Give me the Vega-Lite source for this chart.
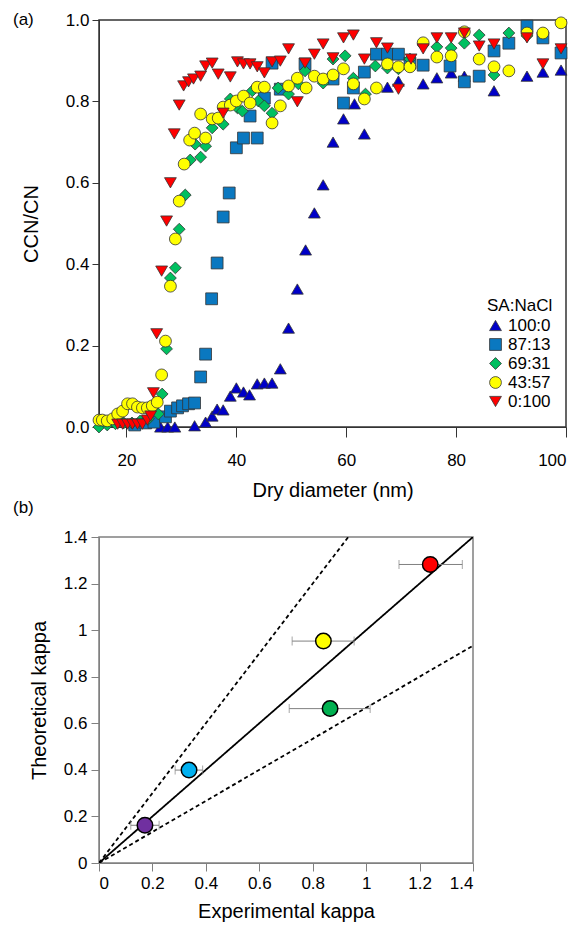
{
  "$schema": "https://vega.github.io/schema/vega-lite/v6.json",
  "padding": {"left": 12, "top": 9, "right": 5, "bottom": 2},
  "spacing": -3,
  "config": {
    "font": "Liberation Sans",
    "axis": {"grid": false, "labelFont": "Liberation Sans", "titleFont": "Liberation Sans", "labelColor": "#000", "titleColor": "#000", "titleFontWeight": "normal", "labelFontSize": 17, "titleFontSize": 20, "tickSize": 8},
    "title": {"fontWeight": "normal", "fontSize": 17, "font": "Liberation Sans", "color": "#000"}
  },
  "datasets": {
    "ccn": [
      {"s":"100:0","d":26.2,"r":0.0},{"s":"100:0","d":27.5,"r":0.0},{"s":"100:0","d":28.8,"r":0.0},{"s":"100:0","d":32.4,"r":0.003},{"s":"100:0","d":34.4,"r":0.012},{"s":"100:0","d":35.6,"r":0.027},{"s":"100:0","d":36.5,"r":0.044},{"s":"100:0","d":37.6,"r":0.042},{"s":"100:0","d":38.9,"r":0.076},{"s":"100:0","d":40.0,"r":0.096},{"s":"100:0","d":41.3,"r":0.086},{"s":"100:0","d":42.4,"r":0.079},{"s":"100:0","d":43.8,"r":0.106},{"s":"100:0","d":45.1,"r":0.108},{"s":"100:0","d":46.5,"r":0.108},{"s":"100:0","d":48.0,"r":0.143},{"s":"100:0","d":49.5,"r":0.243},{"s":"100:0","d":51.1,"r":0.339},{"s":"100:0","d":52.6,"r":0.435},{"s":"100:0","d":54.2,"r":0.526},{"s":"100:0","d":55.8,"r":0.595},{"s":"100:0","d":57.6,"r":0.700},{"s":"100:0","d":59.5,"r":0.757},{"s":"100:0","d":61.5,"r":0.794},{"s":"100:0","d":63.3,"r":0.720},{"s":"100:0","d":67.5,"r":0.835},{"s":"100:0","d":69.5,"r":0.850},{"s":"100:0","d":74.0,"r":0.843},{"s":"100:0","d":76.5,"r":0.858},{"s":"100:0","d":79.1,"r":0.870},{"s":"100:0","d":81.5,"r":0.862},{"s":"100:0","d":86.9,"r":0.826},{"s":"100:0","d":92.9,"r":0.862},{"s":"100:0","d":95.8,"r":0.872},{"s":"100:0","d":99.1,"r":0.877},
      {"s":"87:13","d":21.5,"r":0.005},{"s":"87:13","d":23.5,"r":0.01},{"s":"87:13","d":25.0,"r":0.012},{"s":"87:13","d":27.1,"r":0.025},{"s":"87:13","d":28.0,"r":0.039},{"s":"87:13","d":29.3,"r":0.047},{"s":"87:13","d":30.2,"r":0.052},{"s":"87:13","d":31.3,"r":0.057},{"s":"87:13","d":32.4,"r":0.059},{"s":"87:13","d":33.5,"r":0.123},{"s":"87:13","d":34.4,"r":0.179},{"s":"87:13","d":35.5,"r":0.315},{"s":"87:13","d":36.5,"r":0.403},{"s":"87:13","d":37.6,"r":0.516},{"s":"87:13","d":38.7,"r":0.575},{"s":"87:13","d":40.0,"r":0.686},{"s":"87:13","d":41.3,"r":0.710},{"s":"87:13","d":42.5,"r":0.764},{"s":"87:13","d":43.8,"r":0.710},{"s":"87:13","d":45.1,"r":0.808},{"s":"87:13","d":46.5,"r":0.894},{"s":"87:13","d":48.0,"r":0.830},{"s":"87:13","d":52.5,"r":0.892},{"s":"87:13","d":57.6,"r":0.855},{"s":"87:13","d":59.5,"r":0.796},{"s":"87:13","d":61.3,"r":0.833},{"s":"87:13","d":63.3,"r":0.872},{"s":"87:13","d":65.5,"r":0.916},{"s":"87:13","d":67.5,"r":0.916},{"s":"87:13","d":69.5,"r":0.916},{"s":"87:13","d":71.6,"r":0.894},{"s":"87:13","d":74.0,"r":0.889},{"s":"87:13","d":78.9,"r":0.887},{"s":"87:13","d":81.5,"r":0.848},{"s":"87:13","d":84.2,"r":0.862},{"s":"87:13","d":86.9,"r":0.924},{"s":"87:13","d":89.6,"r":0.943},{"s":"87:13","d":92.9,"r":0.985},{"s":"87:13","d":95.8,"r":0.956},{"s":"87:13","d":99.1,"r":0.919},
      {"s":"69:31","d":15.0,"r":0.0},{"s":"69:31","d":16.5,"r":0.005},{"s":"69:31","d":18.0,"r":0.008},{"s":"69:31","d":19.5,"r":0.01},{"s":"69:31","d":21.0,"r":0.01},{"s":"69:31","d":22.5,"r":0.015},{"s":"69:31","d":24.0,"r":0.02},{"s":"69:31","d":25.8,"r":0.032},{"s":"69:31","d":26.5,"r":0.081},{"s":"69:31","d":27.3,"r":0.192},{"s":"69:31","d":28.0,"r":0.366},{"s":"69:31","d":28.9,"r":0.391},{"s":"69:31","d":29.6,"r":0.486},{"s":"69:31","d":30.7,"r":0.570},{"s":"69:31","d":31.6,"r":0.656},{"s":"69:31","d":32.5,"r":0.695},{"s":"69:31","d":33.5,"r":0.663},{"s":"69:31","d":34.4,"r":0.690},{"s":"69:31","d":35.6,"r":0.735},{"s":"69:31","d":37.6,"r":0.744},{"s":"69:31","d":38.9,"r":0.806},{"s":"69:31","d":40.2,"r":0.784},{"s":"69:31","d":41.1,"r":0.776},{"s":"69:31","d":42.9,"r":0.826},{"s":"69:31","d":44.0,"r":0.801},{"s":"69:31","d":45.1,"r":0.789},{"s":"69:31","d":46.5,"r":0.771},{"s":"69:31","d":47.6,"r":0.833},{"s":"69:31","d":49.5,"r":0.818},{"s":"69:31","d":51.3,"r":0.843},{"s":"69:31","d":52.5,"r":0.875},{"s":"69:31","d":55.8,"r":0.845},{"s":"69:31","d":57.6,"r":0.904},{"s":"69:31","d":59.8,"r":0.912},{"s":"69:31","d":61.3,"r":0.857},{"s":"69:31","d":63.5,"r":0.818},{"s":"69:31","d":65.3,"r":0.887},{"s":"69:31","d":67.5,"r":0.882},{"s":"69:31","d":69.5,"r":0.880},{"s":"69:31","d":71.6,"r":0.904},{"s":"69:31","d":74.0,"r":0.939},{"s":"69:31","d":76.5,"r":0.934},{"s":"69:31","d":79.1,"r":0.931},{"s":"69:31","d":81.5,"r":0.943},{"s":"69:31","d":84.2,"r":0.963},{"s":"69:31","d":86.9,"r":0.865},{"s":"69:31","d":89.6,"r":0.968},{"s":"69:31","d":92.9,"r":0.961},
      {"s":"43:57","d":15.0,"r":0.017},{"s":"43:57","d":15.6,"r":0.017},{"s":"43:57","d":16.5,"r":0.015},{"s":"43:57","d":17.5,"r":0.020},{"s":"43:57","d":18.4,"r":0.032},{"s":"43:57","d":19.3,"r":0.039},{"s":"43:57","d":20.2,"r":0.057},{"s":"43:57","d":21.1,"r":0.057},{"s":"43:57","d":22.0,"r":0.049},{"s":"43:57","d":22.9,"r":0.047},{"s":"43:57","d":23.8,"r":0.047},{"s":"43:57","d":24.7,"r":0.052},{"s":"43:57","d":25.6,"r":0.061},{"s":"43:57","d":26.4,"r":0.128},{"s":"43:57","d":27.1,"r":0.211},{"s":"43:57","d":28.0,"r":0.346},{"s":"43:57","d":28.9,"r":0.462},{"s":"43:57","d":29.6,"r":0.555},{"s":"43:57","d":30.5,"r":0.646},{"s":"43:57","d":31.5,"r":0.705},{"s":"43:57","d":32.4,"r":0.722},{"s":"43:57","d":33.5,"r":0.769},{"s":"43:57","d":34.4,"r":0.710},{"s":"43:57","d":35.6,"r":0.757},{"s":"43:57","d":36.7,"r":0.759},{"s":"43:57","d":37.6,"r":0.786},{"s":"43:57","d":38.9,"r":0.791},{"s":"43:57","d":40.0,"r":0.801},{"s":"43:57","d":41.3,"r":0.813},{"s":"43:57","d":42.5,"r":0.796},{"s":"43:57","d":43.8,"r":0.835},{"s":"43:57","d":45.1,"r":0.835},{"s":"43:57","d":46.5,"r":0.747},{"s":"43:57","d":48.0,"r":0.789},{"s":"43:57","d":49.5,"r":0.838},{"s":"43:57","d":51.1,"r":0.857},{"s":"43:57","d":52.7,"r":0.833},{"s":"43:57","d":54.2,"r":0.862},{"s":"43:57","d":55.8,"r":0.855},{"s":"43:57","d":57.6,"r":0.865},{"s":"43:57","d":59.5,"r":0.880},{"s":"43:57","d":61.3,"r":0.843},{"s":"43:57","d":63.3,"r":0.806},{"s":"43:57","d":65.5,"r":0.833},{"s":"43:57","d":67.5,"r":0.892},{"s":"43:57","d":69.5,"r":0.885},{"s":"43:57","d":71.6,"r":0.885},{"s":"43:57","d":74.0,"r":0.944},{"s":"43:57","d":76.5,"r":0.909},{"s":"43:57","d":79.1,"r":0.912},{"s":"43:57","d":81.5,"r":0.971},{"s":"43:57","d":84.2,"r":0.904},{"s":"43:57","d":86.9,"r":0.885},{"s":"43:57","d":89.6,"r":0.875},{"s":"43:57","d":92.9,"r":0.968},{"s":"43:57","d":95.8,"r":0.968},{"s":"43:57","d":99.1,"r":0.993},
      {"s":"0:100","d":18.4,"r":0.007},{"s":"0:100","d":19.3,"r":0.007},{"s":"0:100","d":20.2,"r":0.007},{"s":"0:100","d":21.1,"r":0.007},{"s":"0:100","d":22.0,"r":0.007},{"s":"0:100","d":22.9,"r":0.007},{"s":"0:100","d":23.8,"r":0.017},{"s":"0:100","d":24.4,"r":0.027},{"s":"0:100","d":24.9,"r":0.084},{"s":"0:100","d":25.5,"r":0.229},{"s":"0:100","d":26.4,"r":0.383},{"s":"0:100","d":27.3,"r":0.506},{"s":"0:100","d":28.0,"r":0.600},{"s":"0:100","d":28.7,"r":0.720},{"s":"0:100","d":29.6,"r":0.791},{"s":"0:100","d":30.4,"r":0.838},{"s":"0:100","d":31.3,"r":0.848},{"s":"0:100","d":32.2,"r":0.855},{"s":"0:100","d":33.5,"r":0.862},{"s":"0:100","d":34.4,"r":0.887},{"s":"0:100","d":35.6,"r":0.894},{"s":"0:100","d":36.7,"r":0.867},{"s":"0:100","d":37.6,"r":0.771},{"s":"0:100","d":38.9,"r":0.860},{"s":"0:100","d":40.2,"r":0.897},{"s":"0:100","d":41.3,"r":0.892},{"s":"0:100","d":42.5,"r":0.892},{"s":"0:100","d":43.8,"r":0.885},{"s":"0:100","d":45.1,"r":0.870},{"s":"0:100","d":46.5,"r":0.897},{"s":"0:100","d":48.0,"r":0.899},{"s":"0:100","d":49.5,"r":0.929},{"s":"0:100","d":51.1,"r":0.799},{"s":"0:100","d":52.5,"r":0.894},{"s":"0:100","d":54.2,"r":0.916},{"s":"0:100","d":55.8,"r":0.941},{"s":"0:100","d":57.6,"r":0.907},{"s":"0:100","d":59.5,"r":0.956},{"s":"0:100","d":61.3,"r":0.963},{"s":"0:100","d":63.3,"r":0.904},{"s":"0:100","d":65.5,"r":0.944},{"s":"0:100","d":67.5,"r":0.931},{"s":"0:100","d":69.5,"r":0.830},{"s":"0:100","d":71.8,"r":0.904},{"s":"0:100","d":74.0,"r":0.929},{"s":"0:100","d":76.5,"r":0.956},{"s":"0:100","d":79.1,"r":0.956},{"s":"0:100","d":81.5,"r":0.968},{"s":"0:100","d":84.2,"r":0.936},{"s":"0:100","d":86.9,"r":0.941},{"s":"0:100","d":92.9,"r":0.956},{"s":"0:100","d":95.8,"r":0.892},{"s":"0:100","d":99.1,"r":0.929}
    ],
    "kappa": [
      {"k":"100:0","x":0.172,"y":0.162,"lo":0.119,"hi":0.225},
      {"k":"87:13","x":0.337,"y":0.399,"lo":0.285,"hi":0.388},
      {"k":"69:31","x":0.865,"y":0.663,"lo":0.712,"hi":1.015},
      {"k":"43:57","x":0.84,"y":0.953,"lo":0.723,"hi":0.955},
      {"k":"0:100","x":1.24,"y":1.282,"lo":1.123,"hi":1.36}
    ],
    "lines": [
      {"l":"1:1","x":0,"y":0},{"l":"1:1","x":1.4,"y":1.4},
      {"l":"upper","x":0,"y":0},{"l":"upper","x":0.9333,"y":1.4},
      {"l":"lower","x":0,"y":0},{"l":"lower","x":1.4,"y":0.9333}
    ]
  },
  "vconcat": [
    {
      "width": 467,
      "height": 407,
      "title": {"text": "(a)", "anchor": "start", "frame": "group", "dx": -86, "offset": -17.5},
      "view": {"stroke": "#333", "strokeWidth": 1.5},
      "data": {"name": "ccn"},
      "mark": {"type": "point", "filled": true, "opacity": 1, "stroke": "#333", "strokeWidth": 0.8, "size": 140},
      "encoding": {
        "x": {"field": "d", "type": "quantitative", "scale": {"domain": [15, 100], "nice": false, "zero": false},
              "axis": {"values": [20, 40, 60, 80, 100], "title": "Dry diameter (nm)", "domainColor": "#333", "tickColor": "#333", "tickSize": 10, "titlePadding": 12, "labelPadding": 15}},
        "y": {"field": "r", "type": "quantitative", "scale": {"domain": [0, 1], "nice": false},
              "axis": {"values": [0, 0.2, 0.4, 0.6, 0.8, 1.0], "format": ".1f", "title": "CCN/CN", "domainColor": "#333", "tickColor": "#333", "tickSize": 7, "titlePadding": 24, "labelPadding": 3}},
        "color": {"field": "s", "type": "nominal",
                  "scale": {"domain": ["100:0", "87:13", "69:31", "43:57", "0:100"], "range": ["#0000c8", "#0a78c0", "#00c060", "#ffff00", "#ff0000"]},
                  "legend": {"title": "SA:NaCl", "orient": "none", "legendX": 388, "legendY": 278, "titleFontSize": 17, "titleFontWeight": "normal", "labelFontSize": 17, "symbolSize": 140, "symbolStrokeColor": "#333", "symbolStrokeWidth": 0.8, "rowPadding": 1, "labelOffset": 4, "titlePadding": 2, "labelColor": "#000", "titleColor": "#000"}},
        "shape": {"field": "s", "type": "nominal",
                  "scale": {"domain": ["100:0", "87:13", "69:31", "43:57", "0:100"], "range": ["triangle-up", "square", "diamond", "circle", "triangle-down"]},
                  "legend": {"title": "SA:NaCl", "orient": "none", "legendX": 388, "legendY": 278, "titleFontSize": 17, "titleFontWeight": "normal", "labelFontSize": 17, "symbolSize": 140, "symbolStrokeColor": "#333", "symbolStrokeWidth": 0.8, "rowPadding": 1, "labelOffset": 4, "titlePadding": 2, "labelColor": "#000", "titleColor": "#000"}}
      }
    },
    {
      "width": 374,
      "height": 326,
      "title": {"text": "(b)", "anchor": "start", "frame": "group", "dx": -86, "offset": 11},
      "view": {"stroke": "#808080", "strokeWidth": 1.5},
      "layer": [
        {
          "data": {"name": "lines"},
          "mark": {"type": "line", "color": "#000", "strokeWidth": 1.8, "clip": true},
          "encoding": {
            "x": {"field": "x", "type": "quantitative", "scale": {"domain": [0, 1.4], "nice": false},
                  "axis": {"values": [0, 0.2, 0.4, 0.6, 0.8, 1, 1.2, 1.4], "format": "~g", "title": "Experimental  kappa", "domainColor": "#808080", "tickColor": "#808080", "titlePadding": 10, "labelPadding": 4}},
            "y": {"field": "y", "type": "quantitative", "scale": {"domain": [0, 1.4], "nice": false},
                  "axis": {"values": [0, 0.2, 0.4, 0.6, 0.8, 1, 1.2, 1.4], "format": "~g", "title": "Theoretical  kappa", "domainColor": "#808080", "tickColor": "#808080", "titlePadding": 14, "labelPadding": 4}},
            "detail": {"field": "l"},
            "strokeDash": {"field": "l", "type": "nominal", "scale": {"domain": ["1:1", "upper", "lower"], "range": [[1, 0], [4, 3], [4, 3]]}, "legend": null}
          }
        },
        {
          "data": {"name": "kappa"},
          "mark": {"type": "rule", "color": "#808080", "strokeWidth": 1},
          "encoding": {
            "x": {"field": "lo", "type": "quantitative"},
            "x2": {"field": "hi"},
            "y": {"field": "y", "type": "quantitative"}
          }
        },
        {
          "data": {"name": "kappa"},
          "mark": {"type": "tick", "orient": "vertical", "color": "#808080", "thickness": 1, "size": 9},
          "encoding": {
            "x": {"field": "lo", "type": "quantitative"},
            "y": {"field": "y", "type": "quantitative"}
          }
        },
        {
          "data": {"name": "kappa"},
          "mark": {"type": "tick", "orient": "vertical", "color": "#808080", "thickness": 1, "size": 9},
          "encoding": {
            "x": {"field": "hi", "type": "quantitative"},
            "y": {"field": "y", "type": "quantitative"}
          }
        },
        {
          "data": {"name": "kappa"},
          "mark": {"type": "circle", "opacity": 1, "stroke": "#000", "strokeWidth": 1.5, "size": 240},
          "encoding": {
            "x": {"field": "x", "type": "quantitative"},
            "y": {"field": "y", "type": "quantitative"},
            "color": {"field": "k", "type": "nominal", "scale": {"domain": ["100:0", "87:13", "69:31", "43:57", "0:100"], "range": ["#7030a0", "#00b0f0", "#00b050", "#ffff00", "#ff0000"]}, "legend": null}
          }
        }
      ],
      "resolve": {"scale": {"color": "independent"}}
    }
  ],
  "resolve": {"scale": {"color": "independent", "shape": "independent"}, "legend": {"color": "independent"}}
}
